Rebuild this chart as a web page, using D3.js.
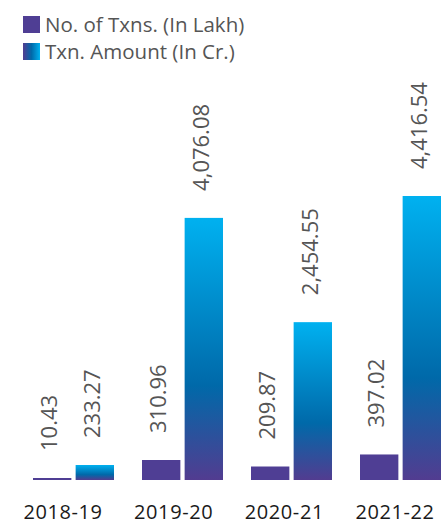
<!DOCTYPE html>
<html>
<head>
<meta charset="utf-8">
<script src="https://cdn.jsdelivr.net/npm/d3@7"></script>
<style>
  html, body { margin: 0; padding: 0; background: #fff; }
  svg text { font-family: "Open Sans", Lato, sans-serif; }
</style>
</head>
<body>
<div id="chart"></div>
<script>
const years = ["2018-19", "2019-20", "2020-21", "2021-22"];
const seriesNames = ["No. of Txns. (In Lakh)", "Txn. Amount (In Cr.)"];
const txnCount = [10.43, 310.96, 209.87, 397.02];
const txnAmount = [233.27, 4076.08, 2454.55, 4416.54];

const WIDTH = 442;
const HEIGHT = 525;
const BASE = 480;
const TOP = 196;

const svg = d3.select("#chart")
    .append("svg")
    .attr("width", WIDTH)
    .attr("height", HEIGHT);

const defs = svg.append("defs");

const vGrad = defs.append("linearGradient")
    .attr("id", "amtGrad")
    .attr("x1", 0).attr("y1", 0).attr("x2", 0).attr("y2", 1);
vGrad.append("stop").attr("offset", "0%").attr("stop-color", "#00b1f0");
vGrad.append("stop").attr("offset", "64%").attr("stop-color", "#0069a9");
vGrad.append("stop").attr("offset", "100%").attr("stop-color", "#523c90");

const hGrad = defs.append("linearGradient")
    .attr("id", "legGrad")
    .attr("x1", 0).attr("y1", 0).attr("x2", 1).attr("y2", 0);
hGrad.append("stop").attr("offset", "0%").attr("stop-color", "#523c90");
hGrad.append("stop").attr("offset", "50%").attr("stop-color", "#0069a9");
hGrad.append("stop").attr("offset", "100%").attr("stop-color", "#00b1f0");

const fills = ["#4f3e94", "url(#amtGrad)"];
const legendFills = ["#4f3e94", "url(#legGrad)"];

// bar groups
const x0 = d3.scaleBand()
    .domain(years)
    .range([8, 444])
    .padding(0);

const x1 = d3.scaleBand()
    .domain(seriesNames)
    .range([25, 106])
    .paddingInner(0.1);

// category label positions
const xLabel = d3.scalePoint()
    .domain(years)
    .range([63, 395]);

const y = d3.scaleLinear()
    .domain([0, d3.max(txnAmount)])
    .range([BASE, TOP]);

const rows = years.map((yr, i) => ({
    year: yr,
    values: [
        { key: seriesNames[0], value: txnCount[i], fill: fills[0] },
        { key: seriesNames[1], value: txnAmount[i], fill: fills[1] }
    ]
}));

const groups = svg.selectAll("g.year")
    .data(rows)
    .join("g")
    .attr("class", "year")
    .attr("transform", d => `translate(${x0(d.year)},0)`);

groups.selectAll("rect")
    .data(d => d.values)
    .join("rect")
    .attr("x", d => x1(d.key))
    .attr("width", x1.bandwidth())
    .attr("y", d => Math.min(y(d.value), BASE - 2))
    .attr("height", d => Math.max(BASE - y(d.value), 2))
    .attr("fill", d => d.fill);

const fmt = d3.format(",.2f");

groups.selectAll("text.val")
    .data(d => d.values)
    .join("text")
    .attr("class", "val")
    .attr("transform", d => {
        const cx = x1(d.key) + x1.bandwidth() / 2 - 3;
        const cy = Math.min(y(d.value), BASE - 2) - 27;
        return `translate(${cx},${cy}) rotate(-90)`;
    })
    .attr("dy", "0.36em")
    .attr("text-anchor", "start")
    .attr("font-size", 22)
    .attr("fill", "#555")
    .text(d => fmt(d.value));

// category labels
svg.selectAll("text.cat")
    .data(years)
    .join("text")
    .attr("class", "cat")
    .attr("x", d => xLabel(d))
    .attr("y", 519)
    .attr("text-anchor", "middle")
    .attr("font-size", 20)
    .attr("letter-spacing", 0.6)
    .attr("fill", "#1a1a1a")
    .text(d => d);

// legend
const legend = svg.append("g").attr("transform", "translate(23,16)");
const items = legend.selectAll("g")
    .data(seriesNames)
    .join("g")
    .attr("transform", (d, i) => `translate(0,${i * 27})`);
items.append("rect")
    .attr("width", 17)
    .attr("height", 17)
    .attr("fill", (d, i) => legendFills[i]);
items.append("text")
    .attr("x", 22)
    .attr("y", 16)
    .attr("font-size", 20.5)
    .attr("fill", "#555")
    .text(d => d);
</script>
</body>
</html>
